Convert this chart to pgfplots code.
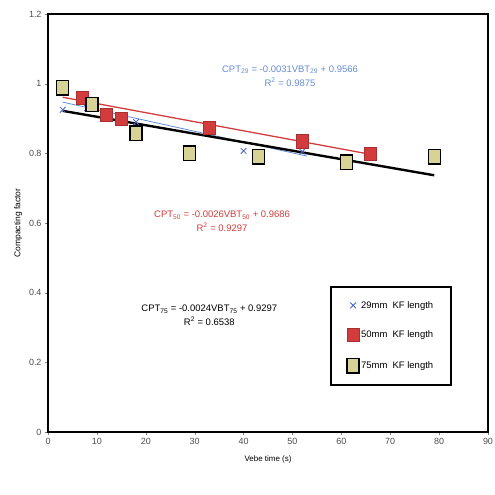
\documentclass[border=0pt]{standalone}
\usepackage{fontspec}
\setmainfont{Liberation Sans}
\usepackage{pgfplots}
\pgfplotsset{compat=1.18}
\definecolor{cblue}{RGB}{70,100,200}
\definecolor{tblue}{RGB}{100,140,210}
\definecolor{cred}{RGB}{210,60,60}
\definecolor{ckhaki}{RGB}{215,210,150}

\begin{document}
\begin{tikzpicture}
  \begin{axis}[
    scale only axis,
    width=440bp, height=418bp,
    xmin=0, xmax=90, ymin=0, ymax=1.2,
    xtick={0,10,...,90},
    ytick={0,0.2,0.4,0.6,0.8,1,1.2},
    yticklabels={0,0.2,0.4,0.6,0.8,1,1.2},
    xtick pos=bottom, ytick pos=left,
    tick align=outside,
    major tick length=3bp,
    tick style={gray},
    axis line style={line width=1.6pt},
    /pgf/number format/assume math mode=true,
    ticklabel style={font=\fontsize{9}{10}\selectfont, text=black!70},
    xlabel={Vebe time (s)},
    ylabel={Compacting factor},
    xlabel style={font=\fontsize{8}{9}\selectfont, yshift=-4bp},
    ylabel style={font=\fontsize{8.5}{9}\selectfont},
    legend style={at={(0.643,0.347)}, anchor=north west, name=leg,
      draw=none, font=\fontsize{9.5}{10}\selectfont,
      row sep=17bp, inner xsep=16bp, inner ysep=12bp},
    legend cell align=left,
  ]
    % trendlines
    \addplot[tblue, thick, forget plot] coordinates {(3,0.947) (53,0.792)};
    \addplot[cred, line width=1.3pt, forget plot] coordinates {(3,0.961) (66,0.797)};
    \addplot[black, line width=2.4pt, forget plot] coordinates {(3,0.922) (79,0.737)};

    % 29mm
    \addplot[only marks, mark=x, mark size=4bp, cblue, thick] coordinates {
      (3,0.925) (8,0.93) (12,0.915) (15,0.905) (18,0.89) (40,0.807) (52,0.805)
    };
    \addlegendentry{29mm\ \ KF length}
    % 50mm
    \addplot[only marks, mark=square*, mark size=6bp, cred, mark options={fill=cred, draw=cred!80!black, yscale=1.1}] coordinates {
      (7,0.96) (12,0.91) (15,0.90) (33,0.873) (52,0.835) (66,0.80)
    };
    \addlegendentry{50mm\ \ KF length}
    % 75mm
    \addplot[only marks, mark=square*, mark size=6bp, black, mark options={fill=ckhaki, draw=black, line width=1.4pt, yscale=1.2}] coordinates {
      (3,0.988) (9,0.94) (18,0.858) (29,0.80) (43,0.79) (61,0.775) (79,0.79)
    };
    \addlegendentry{75mm\ \ KF length}

    \node[tblue, align=center, font=\fontsize{9.5}{14}\selectfont] at (axis cs:49.5,1.022)
      {CPT\textsubscript{29} = -0.0031VBT\textsubscript{29} + 0.9566\\R\textsuperscript{2} = 0.9875};
    \node[cred, align=center, font=\fontsize{9.5}{14}\selectfont] at (axis cs:35.6,0.605)
      {CPT\textsubscript{50} = -0.0026VBT\textsubscript{50} + 0.9686\\R\textsuperscript{2} = 0.9297};
    \node[black, align=center, font=\fontsize{9.5}{14}\selectfont] at (axis cs:33,0.335)
      {CPT\textsubscript{75} = -0.0024VBT\textsubscript{75} + 0.9297\\R\textsuperscript{2} = 0.6538};
  \end{axis}
  \draw[line width=1.8pt] (leg.south west) rectangle (leg.north east);
  \pgfresetboundingbox
  \path ([shift={(-48bp,-63bp)}]current axis.south west) rectangle ([shift={(7bp,14bp)}]current axis.north east);
\end{tikzpicture}
\end{document}
